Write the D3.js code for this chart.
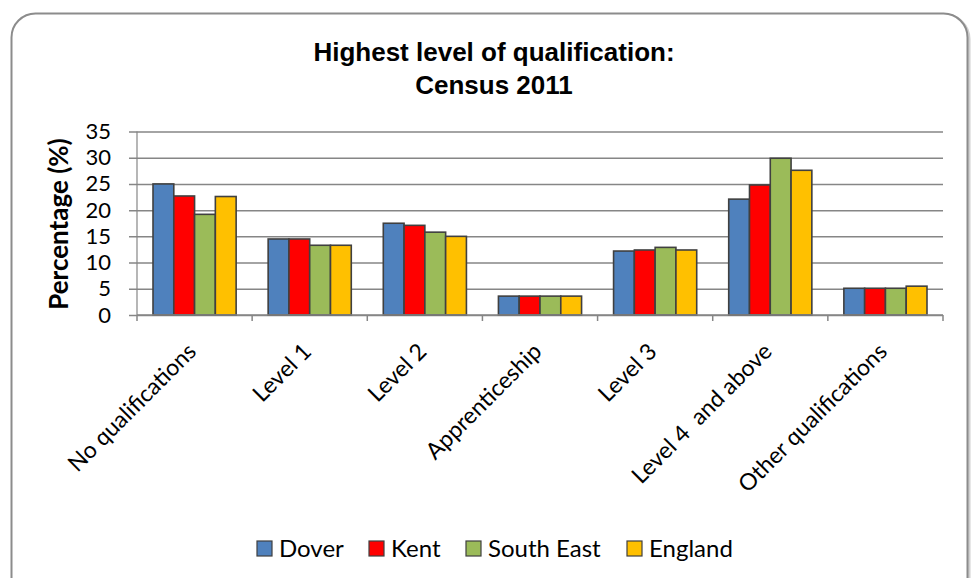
<!DOCTYPE html>
<html>
<head>
<meta charset="utf-8">
<title>Highest level of qualification: Census 2011</title>
<style>
  body { margin: 0; background: #fff; }
  svg { display: block; }
</style>
</head>
<body>
<svg width="975" height="578"></svg>
<script src="https://d3js.org/d3.v7.min.js"></script>
<script>

var categories = ["No qualifications", "Level 1", "Level 2", "Apprenticeship", "Level 3", "Level 4  and above", "Other qualifications"];
var seriesNames = ["Dover", "Kent", "South East", "England"];
var seriesColors = ["#4f81bd", "#ff0000", "#9bbb59", "#ffc000"];

var dover     = [25.0, 14.5, 17.5, 3.6, 12.2, 22.1, 5.1];
var kent      = [22.7, 14.5, 17.1, 3.6, 12.4, 24.8, 5.1];
var southEast = [19.2, 13.3, 15.8, 3.6, 12.9, 29.9, 5.1];
var england   = [22.6, 13.3, 15.0, 3.6, 12.4, 27.6, 5.5];

var yTicks = [0, 5, 10, 15, 20, 25, 30, 35];

var seriesValues = [dover, kent, southEast, england];

var svg = d3.select("svg"),
    width = +svg.attr("width"),
    height = +svg.attr("height");

var bodyFont = "Lato, 'Open Sans', sans-serif";

// frame
svg.append("rect")
    .attr("x", 13).attr("y", 15)
    .attr("width", 956).attr("height", 600)
    .attr("rx", 24)
    .attr("fill", "none")
    .attr("stroke", "#d0d0d0")
    .attr("stroke-width", 3);
svg.append("rect")
    .attr("x", 11.5).attr("y", 13.5)
    .attr("width", 956).attr("height", 600)
    .attr("rx", 24)
    .attr("fill", "#fff")
    .attr("stroke", "#8c8c8c")
    .attr("stroke-width", 2);

// title
var title = svg.append("text")
    .attr("text-anchor", "middle")
    .attr("font-family", "'Liberation Sans', Arial, sans-serif")
    .attr("font-weight", "bold")
    .attr("font-size", 26)
    .attr("fill", "#000");
title.append("tspan").attr("x", 494).attr("y", 61).text("Highest level of qualification:");
title.append("tspan").attr("x", 494).attr("y", 94).text("Census 2011");

var x = d3.scaleBand()
    .domain(categories)
    .range([137, 943]);

var x1 = d3.scaleBand()
    .domain(seriesNames)
    .range([0, x.bandwidth()])
    .paddingOuter(0.77);

var y = d3.scaleLinear()
    .domain([0, 35])
    .range([315, 131.5]);

// gridlines and y labels
var yAxis = svg.append("g")
    .attr("transform", "translate(129,0)")
    .call(d3.axisLeft(y)
        .tickValues(yTicks)
        .tickSize(-(943 - 129))
        .tickPadding(18));
yAxis.select(".domain").remove();
yAxis.selectAll(".tick line")
    .attr("stroke", "#868686")
    .attr("stroke-width", 1.5);
yAxis.selectAll(".tick text")
    .attr("font-family", bodyFont)
    .attr("font-size", 22)
    .attr("fill", "#000");

// y axis line
svg.append("line")
    .attr("x1", 137).attr("x2", 137)
    .attr("y1", y(35)).attr("y2", y(0))
    .attr("stroke", "#868686")
    .attr("stroke-width", 1.2);

// bars
var groups = svg.append("g")
  .selectAll("g")
  .data(categories)
  .enter().append("g")
    .attr("transform", function(d) { return "translate(" + x(d) + ",0)"; });

groups.selectAll("rect")
  .data(function(d, i) {
    return seriesNames.map(function(s, j) {
      return { series: s, value: seriesValues[j][i], color: seriesColors[j] };
    });
  })
  .enter().append("rect")
    .attr("x", function(d) { return x1(d.series); })
    .attr("y", function(d) { return y(d.value); })
    .attr("width", x1.bandwidth())
    .attr("height", function(d) { return y(0) - y(d.value); })
    .attr("fill", function(d) { return d.color; })
    .attr("stroke", "#404040")
    .attr("stroke-width", 1.6);

// x axis line and ticks at category boundaries
var xAxis = svg.append("g");
xAxis.append("line")
    .attr("x1", 137).attr("x2", 943)
    .attr("y1", y(0)).attr("y2", y(0))
    .attr("stroke", "#868686")
    .attr("stroke-width", 1.5);
xAxis.selectAll(".xtick")
  .data(categories.map(function(c) { return x(c); }).concat([x.range()[1]]))
  .enter().append("line")
    .attr("class", "xtick")
    .attr("x1", function(d) { return d; })
    .attr("x2", function(d) { return d; })
    .attr("y1", y(0))
    .attr("y2", y(0) + 6)
    .attr("stroke", "#868686")
    .attr("stroke-width", 1.5);

// x labels
svg.append("g")
  .selectAll("text")
  .data(categories)
  .enter().append("text")
    .attr("text-anchor", "end")
    .attr("font-family", bodyFont)
    .attr("font-size", 23)
    .attr("fill", "#000")
    .attr("xml:space", "preserve")
    .attr("transform", function(d) {
      return "translate(" + (x(d) + x.bandwidth() / 2 + 3) + ",353) rotate(-45)";
    })
    .text(function(d) { return d; });

// y title
svg.append("text")
    .attr("transform", "translate(68,224) rotate(-90)")
    .attr("text-anchor", "middle")
    .attr("font-family", bodyFont)
    .attr("font-weight", "bold")
    .attr("font-size", 26)
    .attr("fill", "#000")
    .text("Percentage (%)");

// legend
var legendX = [257, 369, 466, 627];
var legend = svg.append("g")
  .selectAll("g")
  .data(seriesNames)
  .enter().append("g")
    .attr("transform", function(d, i) { return "translate(" + legendX[i] + ",541)"; });

legend.append("rect")
    .attr("width", 15)
    .attr("height", 15)
    .attr("fill", function(d, i) { return seriesColors[i]; })
    .attr("stroke", "#404040")
    .attr("stroke-width", 1.2);

legend.append("text")
    .attr("x", 22)
    .attr("y", 16)
    .attr("font-family", bodyFont)
    .attr("font-size", 24)
    .attr("fill", "#000")
    .text(function(d) { return d; });

</script>
</body>
</html>
